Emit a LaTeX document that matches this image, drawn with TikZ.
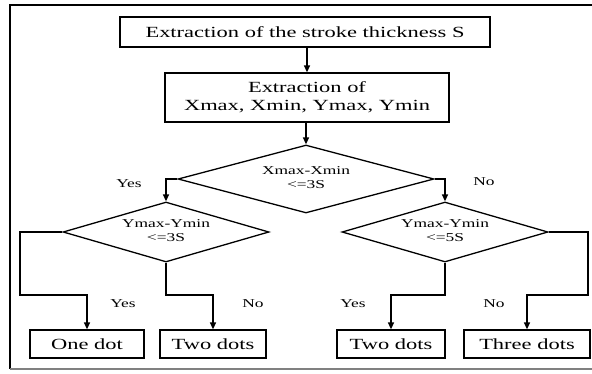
\documentclass[tikz,border=0pt]{standalone}
\usepackage{fontspec}
\setmainfont{Liberation Serif}
\usepackage{graphicx}
\usetikzlibrary{arrows.meta,shapes.geometric}
\newcommand{\sx}[1]{\scalebox{1.45}[1]{#1}}
\begin{document}
\begin{tikzpicture}[x=1pt,y=-1pt,
  box/.style={draw, line width=1.3pt, inner sep=0pt, font=\fontsize{15.5}{18}\selectfont},
  dia/.style={draw, diamond, aspect=3.5, line width=1.3pt, inner sep=0pt, font=\fontsize{12}{13.5}\selectfont},
  lbl/.style={font=\fontsize{12}{13.5}\selectfont, inner sep=0pt},
  conn/.style={line width=1.3pt},
  arr/.style={conn, -{Triangle[length=7pt,width=6pt]}}]
\useasboundingbox (0,0) rectangle (592,373);
\clip (0,0) rectangle (592,373);
\draw[line width=1.3pt] (600,5) -- (10,5) -- (10,369);
\draw[line width=1.3pt, gray] (10,369) -- (600,369);

\node[box, minimum width=370pt, minimum height=30pt] (s1) at (305,32) {\sx{Extraction of the stroke thickness S}};
\node[box, minimum width=284pt, minimum height=49pt] (s2) at (307,97.5) {\sx{\begin{tabular}{@{}c@{}}Extraction of\\Xmax, Xmin, Ymax, Ymin\end{tabular}}};
\node[dia, minimum width=256pt, minimum height=68pt] (d1) at (306,179) {\sx{\begin{tabular}{@{}c@{}}Xmax-Xmin\\<=3S\end{tabular}}};
\node[dia, minimum width=206pt, minimum height=60pt] (d2) at (166,232) {\sx{\begin{tabular}{@{}c@{}}Ymax-Ymin\\<=3S\end{tabular}}};
\node[dia, minimum width=206pt, minimum height=60pt] (d3) at (445,232) {\sx{\begin{tabular}{@{}c@{}}Ymax-Ymin\\<=5S\end{tabular}}};

\node[box, minimum width=114pt, minimum height=28pt] (b1) at (87,344) {\sx{One dot}};
\node[box, minimum width=106pt, minimum height=28pt] (b2) at (213,344) {\sx{Two dots}};
\node[box, minimum width=108pt, minimum height=28pt] (b3) at (391,344) {\sx{Two dots}};
\node[box, minimum width=126pt, minimum height=28pt] (b4) at (527,344) {\sx{Three dots}};

\coordinate (jl) at (20,295);
\coordinate (jr) at (588,295);

\draw[arr] (s2.north |- s1.south) -- (s2.north);
\draw[arr] (d1.north |- s2.south) -- (d1.north);
\draw[arr] (d1.west) -| (d2.north);
\draw[arr] (d1.east) -| (d3.north);
\draw[arr] (d2.west) -| (jl) -| (b1.north);
\draw[arr] (d2.south) -- (d2.south |- jl) -| (b2.north);
\draw[arr] (d3.south) -- (d3.south |- jl) -| (b3.north);
\draw[arr] (d3.east) -| (jr) -| (b4.north);

\node[lbl] (y1) at (129,184) {\sx{Yes}};
\node[lbl] (n1) at (484,182) {\sx{No}};
\node[lbl] (y2) at (123,304) {\sx{Yes}};
\node[lbl] (n2) at (253,304) {\sx{No}};
\node[lbl] (y3) at (353,304) {\sx{Yes}};
\node[lbl] (n3) at (494,304) {\sx{No}};
\end{tikzpicture}
\end{document}
